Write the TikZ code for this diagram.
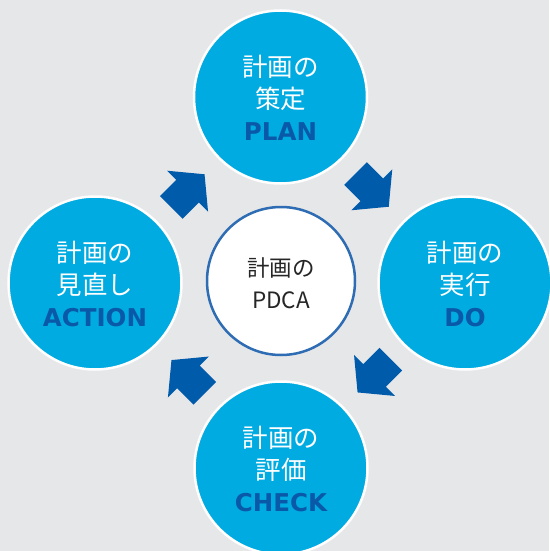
\documentclass[tikz,border=0pt]{standalone}
\usepackage{fontspec}
\newfontfamily\jpf{Noto Sans CJK JP}
\newfontfamily\enf{DejaVu Sans}
\definecolor{bgc}{HTML}{E6E7E9}
\definecolor{cyanc}{HTML}{00ABE1}
\definecolor{darkb}{HTML}{0A58A8}
\definecolor{arrowc}{HTML}{005BAB}
\definecolor{ringc}{HTML}{2E6DB4}
\definecolor{txtc}{HTML}{262626}
\begin{document}
\begin{tikzpicture}[x=1pt,y=-1pt,
  bigcirc/.style={circle,fill=cyanc,draw=white,line width=2.5pt,minimum size=173pt,inner sep=0pt},
  midcirc/.style={circle,fill=white,draw=ringc,line width=2.5pt,minimum size=148pt,inner sep=0pt},
  jpline/.style={anchor=base,text=white,font=\jpf\fontsize{25.5}{30}\selectfont,inner sep=0pt},
  enline/.style={anchor=base,text=darkb,font=\enf\bfseries\fontsize{24.5}{30}\selectfont,inner sep=0pt},
  ctline/.style={anchor=base,text=txtc,font=\jpf\fontsize{22.5}{28}\selectfont,inner sep=0pt},
  blockarrow/.style={fill=arrowc}]
\useasboundingbox[fill=bgc] (0,0) rectangle (549,551);
% circles
\node[bigcirc] (plan) at (280.5,97) {};
\node[bigcirc] (do) at (465,283) {};
\node[bigcirc] (check) at (281,468) {};
\node[bigcirc] (act) at (95,283) {};
\node[midcirc] (pdca) at (281,281) {};
% texts
\node[jpline] (plan1) at ([yshift=21pt]plan.center) {計画の};
\node[jpline] (plan2) at ([yshift=-11pt]plan.center) {策定};
\node[enline] (plan3) at ([yshift=-43pt]plan.center) {PLAN};
\node[jpline] (do1) at ([yshift=21pt]do.center) {計画の};
\node[jpline] (do2) at ([yshift=-11pt]do.center) {実行};
\node[enline] (do3) at ([yshift=-43pt]do.center) {DO};
\node[jpline] (check1) at ([yshift=21pt]check.center) {計画の};
\node[jpline] (check2) at ([yshift=-11pt]check.center) {評価};
\node[enline] (check3) at ([yshift=-43pt]check.center) {CHECK};
\node[jpline] (act1) at ([yshift=21pt]act.center) {計画の};
\node[jpline] (act2) at ([yshift=-11pt]act.center) {見直し};
\node[enline] (act3) at ([yshift=-43pt]act.center) {ACTION};
\node[ctline] (c1) at ([yshift=5pt]pdca.center) {計画の};
\node[ctline] (c2) at ([yshift=-27.5pt]pdca.center) {PDCA};
% block arrows
\coordinate (a1) at (355.5,173.5);
\coordinate (a2) at (390.8,359.2);
\coordinate (a3) at (204.7,393.3);
\coordinate (a4) at (171.3,207.5);
\foreach \c/\r in {a1/-45,a2/-135,a3/135,a4/45}{
  \begin{scope}[shift={(\c)},rotate=\r]
    \fill[blockarrow] (0,16) -- (23,16) -- (23,29) -- (47,0) -- (23,-29) -- (23,-16) -- (0,-16) -- cycle;
  \end{scope}
}
\end{tikzpicture}
\end{document}
